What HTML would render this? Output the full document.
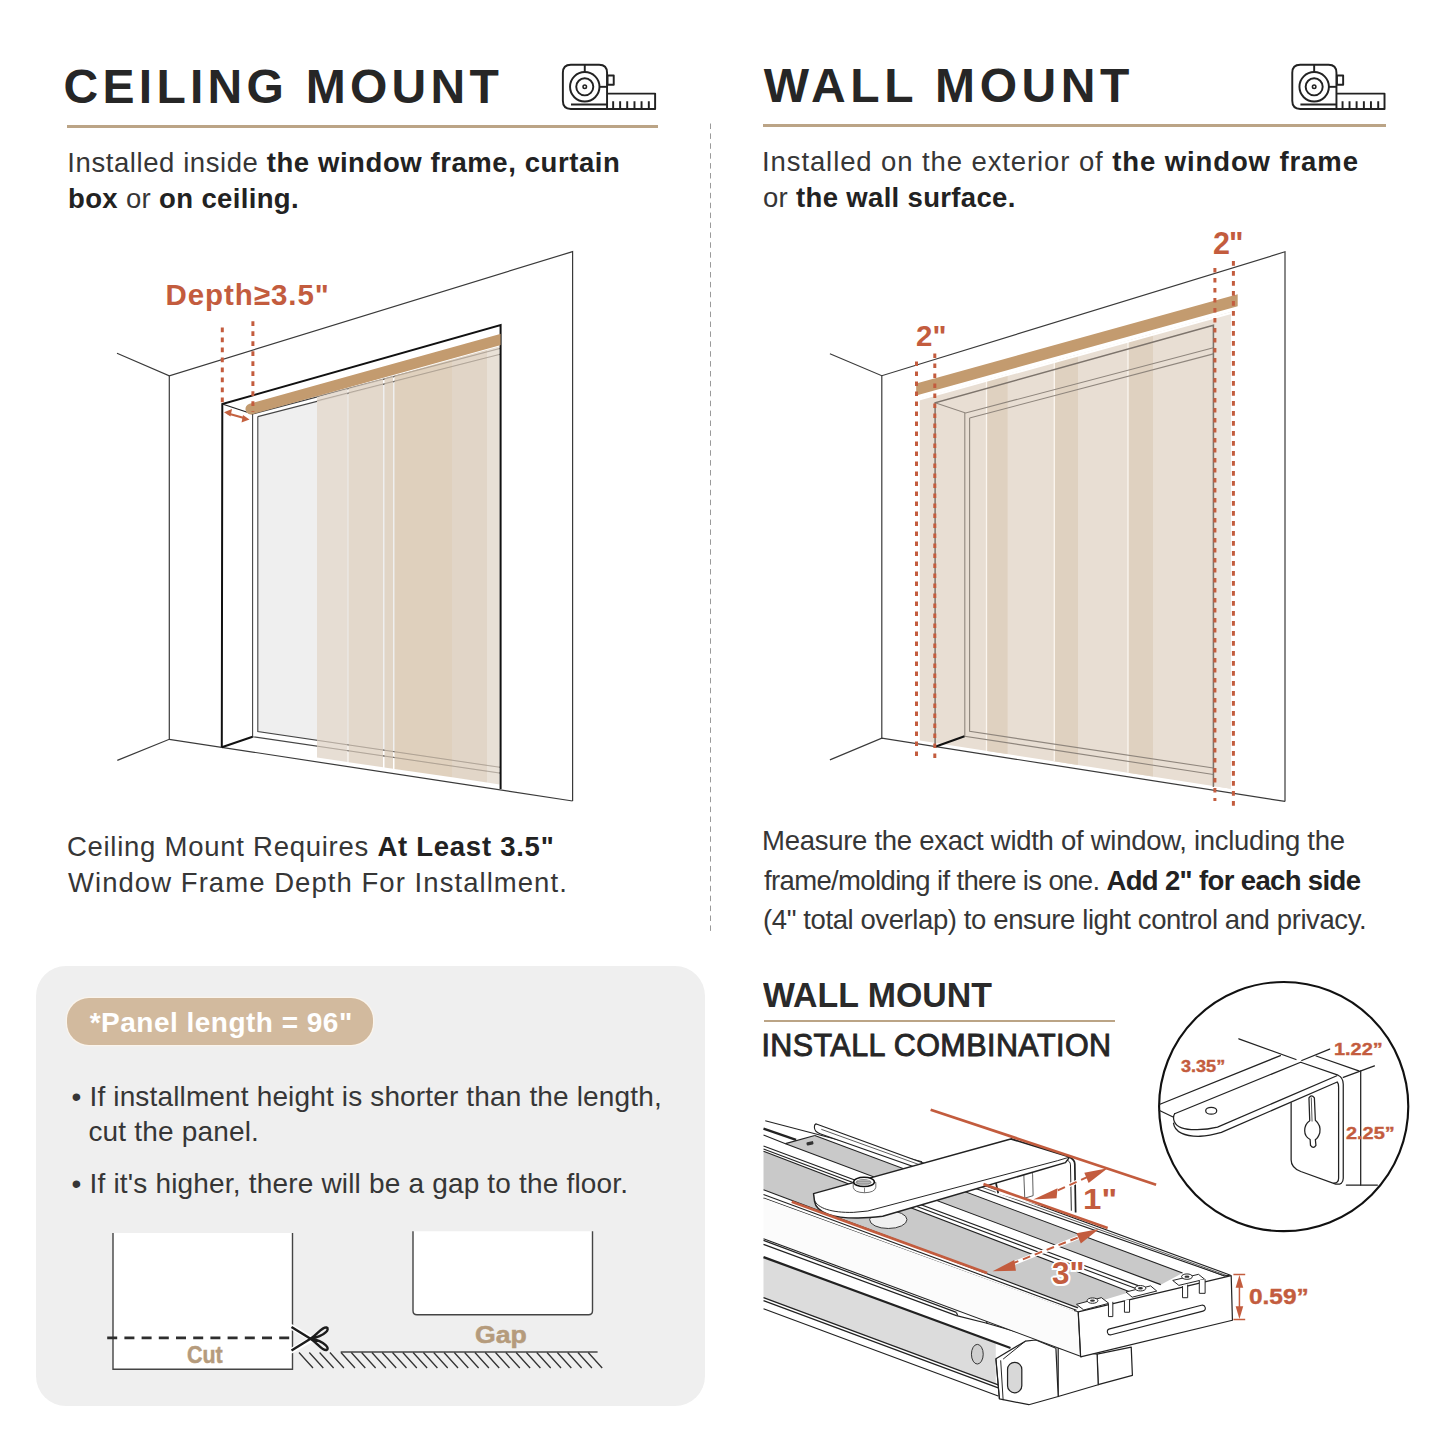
<!DOCTYPE html>
<html><head><meta charset="utf-8">
<style>
html,body{margin:0;padding:0;background:#fff;}
body{width:1445px;height:1445px;position:relative;overflow:hidden;font-family:"Liberation Sans",sans-serif;color:#2a2a2a;}
.t{position:absolute;white-space:nowrap;line-height:1;}
.h{font-weight:bold;font-size:46.5px;letter-spacing:3px;color:#262626;}
.b{font-size:27px;color:#363636;}
.b b{font-weight:bold;color:#222;}
.rule{position:absolute;height:3px;background:#bba486;}
svg{position:absolute;left:0;top:0;}
</style></head><body>

<div class="t h" id="h1" style="left:63.6px;top:62.6px;font-size:48px;letter-spacing:4.27px;">CEILING MOUNT</div>
<div class="t h" id="h2" style="left:763.8px;top:62.4px;font-size:48px;letter-spacing:4.57px;">WALL MOUNT</div>
<div class="rule" style="left:67px;top:125px;width:591px;"></div>
<div class="rule" style="left:763px;top:124px;width:623px;"></div>

<div class="t b" id="l1" style="left:67.3px;top:148.5px;font-size:27.5px;letter-spacing:0.58px;">Installed inside <b>the window frame, curtain</b></div>
<div class="t b" id="l2" style="left:68.0px;top:184.5px;font-size:27.5px;letter-spacing:0.35px;"><b>box</b> or <b>on ceiling.</b></div>
<div class="t b" id="r1" style="left:762.0px;top:147.7px;font-size:27.5px;letter-spacing:0.90px;">Installed on the exterior of <b>the window frame</b></div>
<div class="t b" id="r2" style="left:763.0px;top:183.5px;font-size:27.5px;letter-spacing:0.33px;">or <b>the wall surface.</b></div>

<div class="t b" id="c1" style="left:66.9px;top:833.2px;font-size:27.5px;letter-spacing:0.74px;">Ceiling Mount Requires <b>At Least 3.5"</b></div>
<div class="t b" id="c2" style="left:68.0px;top:869.2px;font-size:27.5px;letter-spacing:1.05px;">Window Frame Depth For Installment.</div>

<div class="t b" id="m1" style="left:762.0px;top:826.6px;font-size:27.5px;letter-spacing:-0.28px;">Measure the exact width of window, including the</div>
<div class="t b" id="m2" style="left:764.0px;top:866.5px;font-size:27.5px;letter-spacing:-0.64px;">frame/molding if there is one. <b>Add 2" for each side</b></div>
<div class="t b" id="m3" style="left:763.0px;top:906.3px;font-size:27.5px;letter-spacing:-0.40px;">(4" total overlap) to ensure light control and privacy.</div>

<div class="t" id="w1" style="left:762.9px;top:978.0px;font-size:35.5px;letter-spacing:0.00px;transform:scaleX(0.9538);transform-origin:0 0;font-weight:bold;">WALL MOUNT</div>
<div class="rule" style="left:764px;top:1020px;width:351px;height:2px;"></div>
<div class="t" id="w2" style="left:761.4px;top:1029.7px;font-size:30.5px;letter-spacing:0.44px;font-weight:normal;-webkit-text-stroke:0.9px #262626;color:#262626;">INSTALL COMBINATION</div>

<!-- grey box -->
<div style="position:absolute;left:36px;top:966px;width:669px;height:440px;background:#efefef;border-radius:30px;"></div>
<div style="position:absolute;left:66.5px;top:997.5px;width:306px;height:47px;background:#d2ba9e;border-radius:22px;box-shadow:0 0 0 1.2px #faf4ec;"></div>
<div class="t" id="p1" style="left:89.7px;top:1008.8px;font-size:28px;letter-spacing:0.49px;font-weight:bold;color:#fff;">*Panel length = 96"</div>

<div class="t b" id="bl1" style="left:71.6px;top:1083.3px;font-size:28px;letter-spacing:0.15px;">• If installment height is shorter than the length,</div>
<div class="t b" id="bl2" style="left:88.4px;top:1118.4px;font-size:28px;letter-spacing:0.18px;">cut the panel.</div>
<div class="t b" id="bl3" style="left:71.6px;top:1170.0px;font-size:28px;letter-spacing:0.18px;">• If it's higher, there will be a gap to the floor.</div>

<svg width="1445" height="1445" viewBox="0 0 1445 1445" style="position:absolute;left:0;top:0;">
<defs>
<g id="tape" fill="none" stroke="#222" stroke-width="20" stroke-linejoin="round">
  <path d="M692 450 V235 Q692 152 610 152 H318 Q236 152 236 235 V525 Q236 608 318 608 H1188 V450 H692 V608"/>
  <line x1="462" y1="152" x2="462" y2="228"/>
  <circle cx="462" cy="380" r="152"/>
  <circle cx="462" cy="380" r="88"/>
  <circle cx="462" cy="380" r="18" stroke-width="16"/>
  <line x1="614" y1="380" x2="692" y2="380"/>
  <rect x="697" y="264" width="64" height="94"/>
  <line x1="320" y1="562" x2="692" y2="562"/>
  <path d="M755 530V608M827 530V608M900 530V608M975 530V608M1048 530V608M1123 530V608"/>
</g>
</defs>
<use href="#tape" transform="translate(540,50) scale(0.0969)"/>
<use href="#tape" transform="translate(1269.4,50) scale(0.0969)"/>
<!-- divider -->
<line x1="710.5" y1="123.5" x2="710.5" y2="932" stroke="#9a9a9a" stroke-width="1" stroke-dasharray="5.5,4.4"/>

<!-- ===== CEILING DIAGRAM ===== -->
<g fill="none" stroke="#3a3a3a" stroke-width="1.2">
  <path d="M117,353.3 L169.3,375.8 L572.6,251.6 L572.6,801"/>
  <path d="M169.3,375.8 L169.3,739.3"/>
  <path d="M117.3,760.4 L169.3,739.3 L572.6,801"/>
</g>
<!-- glass -->
<polygon points="257.8,416.6 500,354.3 500,767.3 257.8,731.5" fill="#efefef"/>
<!-- frame inner lines -->
<g fill="none" stroke="#444" stroke-width="1.1">
  <path d="M252.6,414 L252.6,736.7 L500.6,773.1"/>
  <path d="M252.6,414 L500.6,348.4"/>
  <path d="M257.8,416.6 L500,354.3"/>
  <path d="M257.8,416.6 L257.8,731.5 L500,767.3"/>
</g>
<!-- panels -->
<g>
  <polygon points="317,397 347.5,388.5 347.5,762.1 317,757.6" fill="#e5dbd0" opacity="0.92"/>
  <polygon points="348.5,388.2 383,378.6 383,767.3 348.5,762.2" fill="#e2d6c8" opacity="0.92"/>
  <polygon points="384.5,378.2 393,375.8 393,768.7 384.5,767.5" fill="#e0d2c2" opacity="0.92"/>
  <polygon points="394.5,375.4 452,359.4 452,777.3 394.5,768.9" fill="#ddcdb9" opacity="0.92"/>
  <polygon points="452,359.4 487,349.7 487,782.5 452,777.3" fill="#e0d3c3" opacity="0.92"/>
  <polygon points="487,349.7 499.6,346.2 499.6,784.4 487,782.5" fill="#e7ded4" opacity="0.92"/>
</g>
<!-- lines through panels (faint) -->
<g fill="none" stroke="#9a8f84" stroke-width="1" opacity="0.6">
  <path d="M317,740.25 L500,767.3" />
  <path d="M317,746.15 L500,773.1" />
  <path d="M317,400.8 L500,354.3" />
  <path d="M317,396.5 L500,348.4" />
</g>
<!-- frame bold -->
<g fill="none" stroke="#111" stroke-width="2">
  <path d="M221.8,747.3 L222.3,404 L500.6,325.1 L500.6,789"/>
  <path d="M221.8,747.3 L252.6,736.7"/>
</g>
<path d="M222.3,404 L252.6,414" stroke="#222" stroke-width="1.3" fill="none"/>
<!-- rail -->
<clipPath id="cr"><rect x="0" y="0" width="500.6" height="1445"/></clipPath>
<line x1="251" y1="409" x2="506" y2="338" stroke="#c39b6f" stroke-width="11" stroke-linecap="round" clip-path="url(#cr)"/>
<!-- depth dims -->
<g stroke="#c35c3e" stroke-width="3" stroke-dasharray="4.6,5.4" fill="none">
  <line x1="222.3" y1="327.6" x2="222.3" y2="404"/>
  <line x1="252.9" y1="321.3" x2="252.9" y2="412"/>
</g>
<g fill="#c4613f" stroke="#c4613f">
  <line x1="228" y1="413.5" x2="244" y2="418" stroke-width="2.2"/>
  <polygon points="224,412.2 232,409 230.5,416.5" stroke="none"/>
  <polygon points="249.5,419.5 241.5,422.5 243,415" stroke="none"/>
</g>
<!-- ===== WALL DIAGRAM ===== -->
<g fill="none" stroke="#3a3a3a" stroke-width="1.2">
  <path d="M829.9,353.7 L881.8,375.7 L1285,251.8 L1285,801.4"/>
  <path d="M881.8,375.7 L881.8,738.2"/>
  <path d="M829.9,759.9 L881.8,738.2 L1285,801.4"/>
</g>
<!-- panels -->
<polygon points="919.8,398.5 1231,312.1 1231,788.7 919.8,740.5" fill="#e8ded3"/>
<g fill="#dfd1c0">
  <polygon points="986.9,380 1007.6,374.2 1007.6,754 986.9,750.9"/>
  <polygon points="1054.3,361.2 1078,354.6 1078,765 1054.3,761.3"/>
  <polygon points="1128,340.8 1153,333.8 1153,776.4 1128,772.7"/>
</g>
<polygon points="1214.9,316.6 1231,312.1 1231,788.7 1214.9,786.2" fill="#ebe4dc"/>
<g stroke="#fbf6f0" stroke-width="1.3">
  <line x1="986.5" y1="380" x2="986.5" y2="750.9"/>
  <line x1="1054.3" y1="361.2" x2="1054.3" y2="761.3"/>
  <line x1="1128" y1="340.8" x2="1128" y2="772.7"/>
</g>
<!-- frame lines through panels -->
<g fill="none" stroke="#8f867d" stroke-width="1.1">
  <path d="M935.1,402.8 L965.6,413 L1213.4,347.7"/>
  <path d="M964.8,413 L964.8,736.2 L1213.4,774.5"/>
  <path d="M969.6,418 L1213.4,353.9"/>
  <path d="M969.6,418 L969.6,731.4 L1213.4,768"/>
</g>
<g fill="none" stroke="#7d746c" stroke-width="1.5">
  <path d="M935.1,746.6 L935.1,402.8 L1213.4,325.2 L1213.4,786.9"/>
</g>
<path d="M934.5,747 L964.5,736.2" stroke="#111" stroke-width="2.2" fill="none"/>
<!-- rail -->
<polygon points="916.2,383.5 1237.7,294.3 1237.7,306.3 916.2,395.5" fill="#c39b6f"/>
<line x1="919" y1="399.5" x2="1231" y2="313" stroke="#fff" stroke-width="2"/>
<!-- dotted -->
<g stroke="#c35c3e" stroke-width="3" stroke-dasharray="4.6,5.4" fill="none">
  <line x1="916.5" y1="361.4" x2="916.5" y2="758"/>
  <line x1="934.8" y1="353.4" x2="934.8" y2="762"/>
  <line x1="1214.9" y1="268" x2="1214.9" y2="801"/>
  <line x1="1233.4" y1="261.1" x2="1233.4" y2="807"/>
</g>

<!-- ===== CUT / GAP ===== -->
<path d="M113,1233 V1369.3 H292.5 V1233 Z" fill="#fff" stroke="none"/>
<path d="M113,1233 V1369.3 H292.5 V1233" fill="none" stroke="#444" stroke-width="1.4"/>
<line x1="107.2" y1="1337.8" x2="292.5" y2="1337.8" stroke="#2e2e2e" stroke-width="2.8" stroke-dasharray="10,7.2"/>
<path d="M413,1231.3 V1310.8 Q413,1314.8 417,1314.8 H588.5 Q592.5,1314.8 592.5,1310.8 V1231.3 Z" fill="#fff" stroke="none"/>
<path d="M413,1231.3 V1310.8 Q413,1314.8 417,1314.8 H588.5 Q592.5,1314.8 592.5,1310.8 V1231.3" fill="none" stroke="#444" stroke-width="1.4"/>
<line x1="340.7" y1="1352" x2="597.6" y2="1352" stroke="#444" stroke-width="1.4"/>
<path d="M341.0,1352.5 L355.0,1368 M351.3,1352.5 L365.3,1368 M361.6,1352.5 L375.6,1368 M371.9,1352.5 L385.9,1368 M382.2,1352.5 L396.2,1368 M392.5,1352.5 L406.5,1368 M402.8,1352.5 L416.8,1368 M413.1,1352.5 L427.1,1368 M423.4,1352.5 L437.4,1368 M433.7,1352.5 L447.7,1368 M444.0,1352.5 L458.0,1368 M454.3,1352.5 L468.3,1368 M464.6,1352.5 L478.6,1368 M474.9,1352.5 L488.9,1368 M485.2,1352.5 L499.2,1368 M495.5,1352.5 L509.5,1368 M505.8,1352.5 L519.8,1368 M516.1,1352.5 L530.1,1368 M526.4,1352.5 L540.4,1368 M536.7,1352.5 L550.7,1368 M547.0,1352.5 L561.0,1368 M557.3,1352.5 L571.3,1368 M567.6,1352.5 L581.6,1368 M577.9,1352.5 L591.9,1368 M588.2,1352.5 L602.2,1368" stroke="#333" stroke-width="1.3" fill="none"/>
<path d="M299.0,1352.5 L313.0,1368 M309.3,1352.5 L323.3,1368 M319.6,1352.5 L333.6,1368 M329.9,1352.5 L343.9,1368" stroke="#333" stroke-width="1.3" fill="none"/>
<g fill="none" stroke="#fff" stroke-width="5.5" stroke-linecap="round">
  <path d="M291.5,1327 L312,1339 M291.5,1350.6 L312,1339"/>
</g>
<g fill="none" stroke="#1c1c1c" stroke-width="2.4" stroke-linejoin="round">
  <path d="M291.5,1327 L310.5,1338.8 C318,1334 322,1326.5 326.5,1327.5 C330,1328.5 326,1336 310.5,1338.8"/>
  <path d="M291.5,1350.6 L310.5,1338.8 C318,1343.5 322,1351 326.5,1350 C330,1349 326,1341.5 310.5,1338.8"/>
</g>

<!-- ===== RAIL ASSEMBLY ===== -->
<g transform="translate(750,1090) scale(0.24576)" stroke-linejoin="round">
  <!-- lower rail -->
  <polygon points="55,600 1000,950 1180,1000 1180,1290 1000,1240 55,885" fill="#fff"/>
  <polygon points="55,680 1000,1030 1000,1195 55,845" fill="#dcdcdc"/>
  <g fill="none" stroke="#222" stroke-width="5">
    <path d="M55,612 L840,905"/>
    <path d="M55,628 L840,918 L960,948 L1090,985"/>
    <path d="M840,905 L845,918 M960,935 L965,950"/>
    <path d="M55,680 L1060,1050" stroke-width="9"/>
    <path d="M55,845 L1010,1200"/>
    <path d="M55,857 L1010,1212"/>
    <path d="M55,890 L1010,1245"/>
  </g>
  <ellipse cx="925" cy="1075" rx="24" ry="40" fill="#cfcfcf" stroke="#333" stroke-width="4"/>
  <!-- lower end cap boxes -->
  <g fill="#fff" stroke="#222" stroke-width="5">
    <polygon points="1412.4,1074.6 1551.2,1046.2 1556,1160.9 1416.8,1199.2"/>
    <polygon points="1254,1050.6 1412.4,1074.6 1416.8,1199.2 1254,1247.2"/>
    <polygon points="1000.6,1093.8 1120.2,1022.2 1163.4,1017.3 1244.8,1050.7 1254.1,1247.2 1134.5,1280.6 1014.8,1256.6"/>
  </g>
  <path d="M1020,1100 L1030,1262 M1000.6,1093.8 L1014.8,1256.6" stroke="#222" stroke-width="4" fill="none"/>
  <path d="M1120.2,1022.2 L1030,1095" stroke="#222" stroke-width="4" fill="none"/>
  <rect x="1048" y="1108" width="58" height="124" rx="29" fill="#d8d8d8" stroke="#222" stroke-width="5"/>

  <!-- upper rail top surface -->
  <polygon points="55,118 262,135 1955.3,753.5 1328.5,904.3 55,432" fill="#fff"/>
  <polygon points="144.5,218.3 263.6,185.3 1760,744.6 1671.5,792" fill="#c9c9c9"/>
  <polygon points="55,249 1547.3,821.5 1334.4,886.5 55,406" fill="#c9c9c9"/>
  <g fill="none" stroke="#222" stroke-width="4.5">
    <path d="M62,125 L700,292"/>
    <path d="M55,157 L187.6,203" stroke-width="9"/>
    <path d="M55,183 L144.5,218.3 L1671.5,792"/>
    <path d="M144.5,218.3 L263.6,185.3"/>
    <path d="M55,228 L1590,800"/>
    <path d="M55,240 L1570,808"/>
    <path d="M55,249 L1547.3,821.5"/>
    <path d="M55,406 L1334.4,886.5"/>
    <path d="M55,425 L1328.5,896"/>
    <path d="M55,440 L1328.5,906"/>
    <path d="M263.6,185.3 L1760,744.6"/>
    <path d="M1420,567 L1931.6,756.5"/>
  </g>
  <!-- lip -->
  <path d="M270,138 L1955.3,753.5 L1931.6,756.5 L285,178 Q262,170 262,152 Q262,138 270,138 Z" fill="#fff" stroke="#222" stroke-width="4.5"/>
  <path d="M290,160 L1940,755" stroke="#222" stroke-width="3" fill="none"/>
  <rect x="230" y="210" width="28" height="14" rx="4" fill="#333" transform="rotate(-12 244 217)"/>
  <!-- front face of upper rail -->
  <polygon points="55,440 1335,905 1350,1085 55,605" fill="#fbfbfb"/>
  <path d="M55,605 L1350,1085" stroke="#222" stroke-width="4.5" fill="none"/>
  <!-- end cap front -->
  <polygon points="1335.5,902.5 1958,755.1 1963,937 1345.3,1085.7" fill="#fff" stroke="#222" stroke-width="5"/>
  <path d="M1318,897 L1335.5,902.5 L1345.3,1085.7" stroke="#222" stroke-width="4" fill="none"/>
  <path d="M1469.7,995.9 L1843.3,899.9 A12,12 0 0 0 1837,876 L1463.4,972 A12,12 0 0 0 1469.7,995.9 Z" fill="#fff" stroke="#222" stroke-width="4.5"/>
  <g fill="#fff" stroke="#222" stroke-width="4">
    <polygon points="1328.5,872 1430,845 1460,868 1358,895"/>
    <polygon points="1530,822 1630,797 1655,818 1555,843"/>
    <polygon points="1720,775 1825,750 1850,770 1745,795"/>
    <path d="M1458.6,868.8 V922 H1476.3 V862 M1523.6,857 V904.3 H1544.4 V852 M1760,797.9 V845.2 H1780.9 V792 M1828.2,774.2 V827.4 H1851.9 V770"/>
    <ellipse cx="1393.6" cy="857" rx="22" ry="11"/>
    <ellipse cx="1588.7" cy="806.7" rx="22" ry="11"/>
    <ellipse cx="1778" cy="759.4" rx="22" ry="11"/>
  </g>
  <g fill="#333"><ellipse cx="1393.6" cy="857" rx="10" ry="5"/><ellipse cx="1588.7" cy="806.7" rx="10" ry="5"/><ellipse cx="1778" cy="759.4" rx="10" ry="5"/></g>

  <!-- bracket vertical plate -->
  <polygon points="1000,300 1061,199.1 1300.4,273 1321.6,301.2 1325,498.3 1180,470 1000,420" fill="#fff"/>
  <path d="M1061,199.1 L1300.4,273 Q1321.6,285 1321.6,301.2 L1325,498.3" stroke="#222" stroke-width="7" fill="none"/>
  <path d="M976.6,350.5 L1286.4,283.6 Q1304,290 1304,304.7 L1307.5,491.3" stroke="#222" stroke-width="4" fill="none"/>
  <path d="M1000,375 L1010,420" stroke="#222" stroke-width="7" fill="none"/>
  <path d="M1114,340 Q1116,318 1132,320 Q1148,322 1150,345 L1152,430 L1118,440 Z" fill="#fff" stroke="#444" stroke-width="3.5"/>
  <!-- washer -->
  <ellipse cx="562.7" cy="527.5" rx="76" ry="36" fill="#f0f0f0" stroke="#333" stroke-width="4"/>
  <!-- bracket arm -->
  <path d="M262.6,453 C270,500 340,522 440,521 C480,520 500,518 540,513.6 L1283.6,295.4 L1300.4,273 L1061,199.1 L258.6,421.5 Z" fill="#fff" stroke="#222" stroke-width="6"/>
  <path d="M262.6,449 C275,480 330,500 420,498 L479.4,492.4 L1252,287.5 L1300.4,273" stroke="#222" stroke-width="4" fill="none"/>
  <!-- nut -->
  <path d="M420,376 L420,396 Q424,417 466,418 Q508,417 512,396 L512,376 Z" fill="#fff" stroke="#555" stroke-width="3.5"/>
  <path d="M466,398 L466,418" stroke="#555" stroke-width="3" fill="none"/>
  <ellipse cx="464" cy="374" rx="42" ry="19" fill="#fff" stroke="#111" stroke-width="6"/>
  <ellipse cx="462" cy="375" rx="32" ry="13" fill="#8f8f8f"/>
  <path d="M440,369 H486 M438,376 H488 M442,383 H482" stroke="#d8d8d8" stroke-width="2.5" fill="none"/>
  <!-- orange dims -->
  <g stroke="#c35c3e" fill="none" stroke-linecap="butt">
    <path d="M735,80 L1652.4,385.7" stroke-width="11"/>
    <path d="M950,383 L1455.3,561.7" stroke-width="11"/>
    <path d="M170,455 L965,745" stroke-width="11"/>
    <path d="M1200,432 L1405,340" stroke="#fff" stroke-width="16"/>
    <path d="M1205,430 L1400,342" stroke-width="8" stroke-dasharray="32,20"/>
    <path d="M1060,710 L1360,590" stroke="#fff" stroke-width="16"/>
    <path d="M1062,708 L1355,592" stroke-width="8" stroke-dasharray="32,20"/>
  </g>
  <g fill="#c35c3e">
    <polygon points="1152.6,445.5 1251.2,399.7 1247.6,440"/>
    <polygon points="1455.3,318.8 1360.3,336.4 1377.9,378.6"/>
    <polygon points="987.2,737.6 1075.2,691.9 1082.2,735"/>
    <polygon points="1420.1,565.2 1328.6,582.8 1346.2,625"/>
  </g>
  <!-- 0.59 dim -->
  <g stroke="#c35c3e" fill="none" stroke-width="6">
    <path d="M1967,751 H2015 M1967,934 H2015 M1991.5,775 V910"/>
  </g>
  <g fill="#c35c3e">
    <polygon points="1991.5,753 1976,805 2007,805"/>
    <polygon points="1991.5,932 1976,880 2007,880"/>
  </g>
</g>
<!-- ===== BRACKET CIRCLE ===== -->
<g transform="translate(1140,970) scale(0.19376)" fill="none" stroke="#222" stroke-linejoin="round" stroke-linecap="round">
  <circle cx="741.6" cy="705" r="643" fill="#fff" stroke="#111" stroke-width="11"/>
  <g stroke-width="6.5">
    <path d="M103,692.7 L724.6,441.8"/>
    <path d="M98,723.6 L168,757.6"/>
    <path d="M510,355 L805,462"/>
    <path d="M835,467 L979,408"/>
    <path d="M909,444 L1129,521"/>
    <path d="M1049,554 L1210,495"/>
    <path d="M1139,521 L1139,1110"/>
    <path d="M1065,1110 L1225,1110"/>
    <path d="M178.6,742 L829,476 L1022,543 Q1049,555 1049,590 L1049,1075 Q1049,1110 1010,1105 L830,1040 Q780,1020 780,980 L780,685"/>
    <path d="M178.6,742 C166,765 175,800 215,815 C250,828 330,828 400,810.7 L1016,546"/>
    <path d="M173,790 C178,835 230,860 310,858 C350,857 380,850 420,838 L1018,578 Q1025,585 1025,605 L1025,1075 Q1025,1100 1000,1100"/>
    <ellipse cx="367.5" cy="726.4" rx="28.5" ry="18"/>
    <path d="M872,660 Q885,640 900,660 L905,775 Q935,800 928,840 Q918,870 905,875 L908,905 Q895,925 880,905 L878,875 Q850,860 850,830 Q850,795 876,778 Z"/>
    <path d="M884,660 L888,780" stroke-width="4"/>
  </g>
</g>

</svg>

<div class="t" id="dep" style="left:165.5px;top:279.8px;font-size:29.5px;letter-spacing:0.94px;font-weight:bold;color:#c35c3e;">Depth≥3.5"</div>
<div class="t" id="twoA" style="left:916px;top:321.1px;font-size:29.5px;letter-spacing:0px;font-weight:bold;color:#c35c3e;">2"</div>
<div class="t" id="twoB" style="left:1213.0px;top:227.8px;font-size:30.5px;letter-spacing:-1.00px;font-weight:bold;color:#c35c3e;">2"</div>

<div class="t" id="cutT" style="-webkit-text-stroke:0.5px #b59b7c;left:186.7px;top:1342.7px;font-size:24px;letter-spacing:0.00px;transform:scaleX(0.8942);transform-origin:0 0;font-weight:bold;color:#b59b7c;">Cut</div>
<div class="t" id="gapT" style="-webkit-text-stroke:0.5px #b59b7c;left:475.3px;top:1323.2px;font-size:24px;letter-spacing:0.00px;transform:scaleX(1.1099);transform-origin:0 0;font-weight:bold;color:#b59b7c;">Gap</div>

<div class="t" id="one" style="transform-origin:0 0;transform:scaleX(1.12);left:1082.5px;top:1184.3px;font-size:29.5px;letter-spacing:0px;font-weight:bold;color:#c35c3e;">1"</div>
<div class="t" id="three" style="left:1052px;top:1257.6px;font-size:31.5px;letter-spacing:0px;font-weight:bold;color:#c35c3e;-webkit-text-stroke:0;text-shadow:2px 0 0 #fff,-2px 0 0 #fff,0 2px 0 #fff,0 -2px 0 #fff,1.5px 1.5px 0 #fff,-1.5px -1.5px 0 #fff,1.5px -1.5px 0 #fff,-1.5px 1.5px 0 #fff;">3"</div>
<div class="t" id="o59" style="left:1249.4px;top:1285.5px;font-size:21.7px;letter-spacing:0.00px;transform:scaleX(1.1258);transform-origin:0 0;-webkit-text-stroke:0.4px #c35c3e;font-weight:bold;color:#c35c3e;">0.59”</div>
<div class="t" id="d335" style="left:1181.0px;top:1058.8px;font-size:16.9px;letter-spacing:0.00px;transform:scaleX(1.0693);transform-origin:0 0;-webkit-text-stroke:0.4px #c35c3e;font-weight:bold;color:#c35c3e;">3.35”</div>
<div class="t" id="d122" style="left:1334.3px;top:1041.9px;font-size:16.9px;letter-spacing:0.00px;transform:scaleX(1.18);transform-origin:0 0;-webkit-text-stroke:0.4px #c35c3e;font-weight:bold;color:#c35c3e;">1.22”</div>
<div class="t" id="d225" style="left:1346.3px;top:1126.2px;font-size:16.9px;letter-spacing:0.00px;transform:scaleX(1.18);transform-origin:0 0;-webkit-text-stroke:0.4px #c35c3e;font-weight:bold;color:#c35c3e;">2.25”</div>

</body></html>
